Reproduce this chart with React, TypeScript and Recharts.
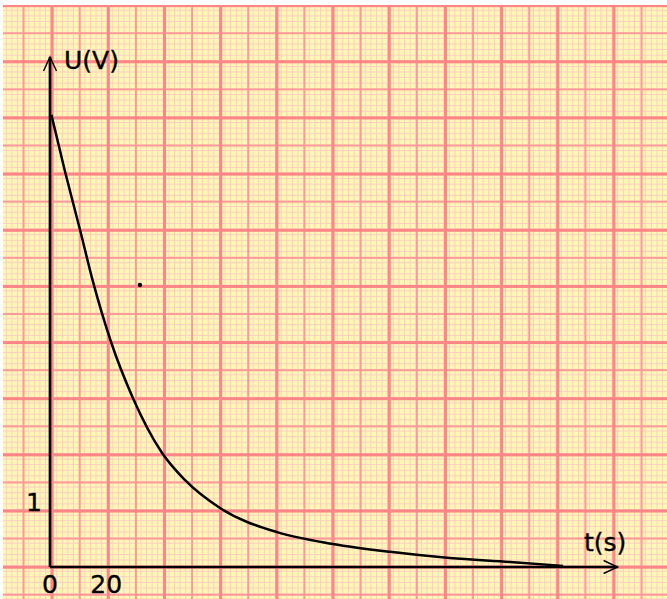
import React from "react";
import { LineChart, Line, XAxis, YAxis, ReferenceLine, ReferenceDot, Label } from "recharts";

// values
const time = [0.5, 5.3, 10.7, 15.3, 21.7, 29.5, 39.9, 48, 60.5, 80.8, 100.7, 121, 142.3, 163.7, 182.6];
const voltage = [8.05, 7.05, 6.0, 5.08, 4.01, 3.01, 2.03, 1.55, 1.05, 0.62, 0.41, 0.27, 0.16, 0.09, 0.02];

const xTicks = [0, 20];
const yTicks = [1];
const xMax = 202.5;
const yMax = 9.08;
const strayDot = { t: 32, u: 5.02 };

const data = time.map((t, i) => ({ t, u: voltage[i] }));

const FONT = "'DejaVu Sans', Verdana, sans-serif";
const textStyle = { fontFamily: FONT, fontSize: 25, fill: "#000", stroke: "#000", strokeWidth: 0.35 };

const paper: React.CSSProperties = {
  position: "absolute",
  left: 3,
  top: 5,
  width: 664,
  height: 594,
  backgroundColor: "#fff8b4",
  backgroundImage: [
    "linear-gradient(to right, #ff8686 0 2.7px, transparent 2.7px)",
    "linear-gradient(to bottom, #ff8686 0 2.7px, transparent 2.7px)",
    "linear-gradient(to right, #ff9a98 0 1.7px, transparent 1.7px)",
    "linear-gradient(to bottom, #ff9a98 0 1.7px, transparent 1.7px)",
    "linear-gradient(to right, #ffcbc2 0 1.4px, transparent 1.4px)",
    "linear-gradient(to bottom, #ffcbc2 0 1.4px, transparent 1.4px)",
  ].join(","),
  backgroundSize: [
    "56.2px 100%",
    "100% 56.17px",
    "28.1px 100%",
    "100% 28.085px",
    "5.62px 100%",
    "100% 5.617px",
  ].join(","),
  backgroundPosition: [
    "47.7px 0",
    "0 -0.8px",
    "47.7px 0",
    "0 -0.8px",
    "47.7px 0",
    "0 -0.8px",
  ].join(","),
};

function Arrow(props: any) {
  const { x1, y1, x2, y2 } = props;
  const len = Math.hypot(x2 - x1, y2 - y1) || 1;
  const dx = (x2 - x1) / len;
  const dy = (y2 - y1) / len;
  const back = 14;
  const side = 6.5;
  const ax = x2 - dx * back;
  const ay = y2 - dy * back;
  return (
    <g>
      <line x1={x1} y1={y1} x2={x2} y2={y2} stroke="#000" strokeWidth={2.7} />
      <path
        d={`M${ax - dy * side},${ay + dx * side} L${x2},${y2} L${ax + dy * side},${ay - dx * side}`}
        fill="none"
        stroke="#000"
        strokeWidth={1.4}
      />
    </g>
  );
}

const XTick = (props: any) => (
  <text x={props.x} y={props.y} dy="0.71em" textAnchor="middle" {...textStyle}>
    {props.payload.value}
  </text>
);

const YTick = (props: any) => (
  <text x={props.x} y={props.y} textAnchor="end" {...textStyle}>
    {props.payload.value}
  </text>
);

export default function App() {
  return (
    <div style={{ position: "absolute", left: 0, top: 0, width: 667, height: 599, background: "#fff" }}>
      <div style={paper} />
      <div style={{ position: "absolute", left: 0, top: 0 }}>
        <LineChart width={667} height={599} data={data} margin={{ top: 57, right: 48, bottom: 0, left: 0 }}>
          <XAxis
            type="number"
            dataKey="t"
            domain={[0, xMax]}
            ticks={xTicks}
            tick={<XTick />}
            axisLine={false}
            tickLine={false}
            height={32}
            interval={0}
          >
            <Label
              content={(p: any) => (
                <text x={p.viewBox.x + p.viewBox.width - 35} y={p.viewBox.y - 16} {...textStyle}>
                  t(s)
                </text>
              )}
            />
          </XAxis>
          <YAxis
            type="number"
            domain={[0, yMax]}
            ticks={yTicks}
            tick={<YTick />}
            axisLine={false}
            tickLine={false}
            width={50}
            interval={0}
          >
            <Label
              content={(p: any) => (
                <text x={p.viewBox.x + p.viewBox.width + 14} y={p.viewBox.y + 12} {...textStyle}>
                  U(V)
                </text>
              )}
            />
          </YAxis>
          <ReferenceLine segment={[{ x: 0, y: 0 }, { x: 0, y: yMax }]} shape={<Arrow />} ifOverflow="visible" />
          <ReferenceLine segment={[{ x: 0, y: 0 }, { x: 202, y: 0 }]} shape={<Arrow />} ifOverflow="visible" />
          <ReferenceDot x={strayDot.t} y={strayDot.u} r={2.2} fill="#000" stroke="none" ifOverflow="visible" />
          <Line
            type="monotone"
            dataKey="u"
            stroke="#000"
            strokeWidth={2.5}
            dot={false}
            isAnimationActive={false}
          />
        </LineChart>
      </div>
    </div>
  );
}
